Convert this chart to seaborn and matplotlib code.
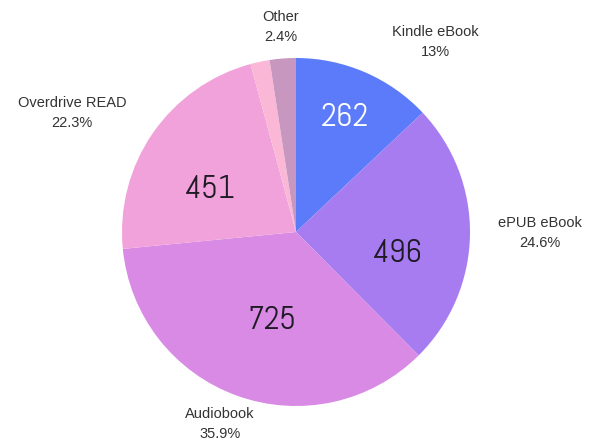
import matplotlib
matplotlib.use("Agg")
import matplotlib.pyplot as plt
import seaborn as sns
from matplotlib import font_manager

sns.set_theme(style="white")
plt.rcParams['font.family'] = ['Liberation Sans', 'DejaVu Sans']

# ---- data ----
categories = ["Kindle eBook", "ePUB eBook", "Audiobook", "Overdrive READ", "", "Other"]
values = [262, 496, 725, 451, 36, 49]
pct_labels = ["13%", "24.6%", "35.9%", "22.3%", "", "2.4%"]
count_labels = ["262", "496", "725", "451", "", ""]

colors = ["#5b7bfb", "#a67cf0", "#d88ae5", "#f1a2da", "#fbb8d6", "#c897c0"]
count_colors = ["white", "#1f1a24", "#1f1a24", "#1f1a24", None, None]

# layout (pixel positions in the 590x444 canvas)
CX, CY, R = 296, 232, 174
cat_label_px = [(435, 42), (540, 233), (220, 424), (72, 113), None, (281, 27)]
count_label_px = [(345, 118), (397, 254), (272, 321), (210, 190), None, None]

fig = plt.figure(figsize=(5.9, 4.44), dpi=100)
ax = fig.add_axes([0, 0, 1, 1])

ax.pie(values, colors=colors, startangle=90, counterclock=False,
       radius=1, center=(0, 0), wedgeprops=dict(linewidth=0))

def to_data(p):
    return ((p[0] - CX) / R, (CY - p[1]) / R)

available = {f.name for f in font_manager.fontManager.ttflist}
num_font = next((n for n in ["Abel", "Dosis", "Barlow Condensed"] if n in available),
                "DejaVu Sans")

for cat, pct, pos in zip(categories, pct_labels, cat_label_px):
    if pos is None:
        continue
    x, y = to_data(pos)
    ax.text(x, y, f"{cat}\n{pct}", ha="center", va="center",
            fontsize=10.5, color="#333333", linespacing=1.62)

for lab, pos, col in zip(count_labels, count_label_px, count_colors):
    if pos is None:
        continue
    x, y = to_data(pos)
    ax.text(x, y, lab, ha="center", va="center", fontsize=23.5, color=col,
            family=[num_font])

ax.set_xlim(-CX / R, (590 - CX) / R)
ax.set_ylim(-(444 - CY) / R, CY / R)
ax.set_aspect('equal')
ax.axis('off')

fig.savefig("out.png", dpi=100, facecolor="white")
